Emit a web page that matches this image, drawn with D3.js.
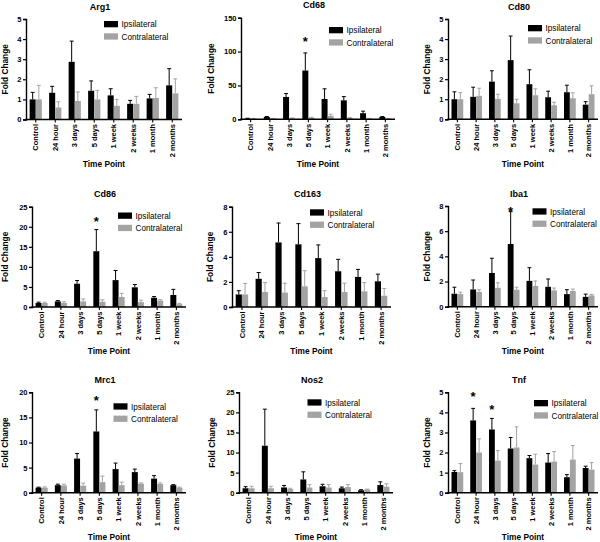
<!DOCTYPE html>
<html>
<head>
<meta charset="utf-8">
<script src="https://cdn.jsdelivr.net/npm/d3@7"></script>
<style>
  html, body { margin: 0; padding: 0; background: #fff; }
  svg { display: block; font-family: "Liberation Sans", Arial, sans-serif; }
</style>
</head>
<body>
<svg id="chart" width="600" height="542"></svg>
<script>
// ---------- DATA ----------
const timePoints = ["Control", "24 hour", "3 days", "5 days", "1 week", "2 weeks", "1 month", "2 months"];
const seriesNames = ["Ipsilateral", "Contralateral"];

const arg1Ipsi = [1.0, 1.33, 2.87, 1.43, 1.2, 0.78, 1.05, 1.7];
const arg1IpsiSem = [0.35, 0.32, 1.03, 0.49, 0.33, 0.17, 0.2, 0.83];
const arg1Contra = [1.0, 0.6, 0.92, 1.0, 0.68, 0.78, 1.07, 1.3];
const arg1ContraSem = [0.7, 0.28, 0.45, 0.45, 0.32, 0.37, 0.51, 0.72];

const cd68Ipsi = [1, 3.5, 33, 72, 30, 28, 9, 3.5];
const cd68IpsiSem = [0.5, 0.7, 5, 26, 15, 5.5, 3, 0.5];
const cd68Contra = [1, 1, 1.5, 2.5, 5, 2, 1, 1];
const cd68ContraSem = [0.3, 0.3, 0.5, 0.5, 2.5, 0.5, 0.3, 0.3];

const cd80Ipsi = [1.0, 1.12, 1.88, 2.95, 1.75, 1.1, 1.35, 0.73];
const cd80IpsiSem = [0.37, 0.48, 0.54, 1.2, 0.72, 0.3, 0.35, 0.15];
const cd80Contra = [1.0, 1.17, 1.02, 0.8, 1.2, 0.7, 1.05, 1.25];
const cd80ContraSem = [0.33, 0.38, 0.23, 0.2, 0.32, 0.15, 0.27, 0.42];

const cd86Ipsi = [1.0, 1.4, 5.8, 13.9, 6.7, 4.9, 2.3, 3.0];
const cd86IpsiSem = [0.2, 0.2, 0.8, 5.4, 2.4, 0.7, 0.3, 1.4];
const cd86Contra = [1.0, 1.0, 1.4, 1.3, 2.5, 1.2, 1.6, 0.7];
const cd86ContraSem = [0.2, 0.3, 0.6, 0.5, 0.9, 0.5, 0.2, 0.2];

const cd163Ipsi = [1.0, 2.25, 5.15, 5.0, 3.9, 2.85, 2.4, 2.05];
const cd163IpsiSem = [0.3, 0.5, 1.55, 1.65, 1.05, 0.95, 0.6, 0.57];
const cd163Contra = [1.0, 1.2, 1.15, 1.65, 0.8, 1.2, 1.25, 0.9];
const cd163ContraSem = [0.88, 0.75, 0.75, 1.25, 0.5, 0.7, 0.7, 0.58];

const iba1Ipsi = [1.03, 1.37, 2.68, 4.98, 2.05, 1.58, 1.0, 0.78];
const iba1IpsiSem = [0.52, 0.75, 1.17, 2.57, 1.05, 0.62, 0.35, 0.22];
const iba1Contra = [1.0, 1.18, 1.5, 1.35, 1.65, 1.3, 1.25, 0.9];
const iba1ContraSem = [0.15, 0.17, 0.4, 0.2, 0.4, 0.18, 0.15, 0.08];

const mrc1Ipsi = [1.0, 1.5, 6.8, 12.2, 4.7, 4.1, 2.8, 1.5];
const mrc1IpsiSem = [0.1, 0.2, 1.0, 4.3, 1.2, 0.6, 0.6, 0.1];
const mrc1Contra = [1.0, 1.45, 1.4, 2.1, 1.5, 1.8, 1.75, 1.0];
const mrc1ContraSem = [0.15, 0.25, 0.5, 1.2, 0.6, 0.15, 0.2, 0.1];

const nos2Ipsi = [1.1, 11.7, 1.3, 3.3, 1.6, 1.1, 0.6, 1.9];
const nos2IpsiSem = [0.4, 9.1, 0.5, 1.9, 0.5, 0.3, 0.15, 0.8];
const nos2Contra = [1.1, 1.1, 0.9, 1.3, 1.3, 1.4, 0.8, 1.5];
const nos2ContraSem = [0.5, 0.5, 0.2, 0.7, 0.7, 0.6, 0.1, 0.7];

const tnfIpsi = [1.03, 3.6, 3.15, 2.2, 1.72, 1.5, 0.77, 1.23];
const tnfIpsiSem = [0.07, 0.6, 0.55, 0.55, 0.13, 0.45, 0.13, 0.09];
const tnfContra = [1.02, 2.0, 1.6, 2.25, 1.4, 1.55, 1.65, 1.15];
const tnfContraSem = [0.43, 0.68, 0.5, 1.03, 0.52, 0.5, 0.7, 0.35];

// y-axis maxima and tick steps
const yMaxes = [5, 150, 5, 25, 8, 8, 20, 25, 5];
const yTickSteps = [1, 50, 1, 5, 2, 2, 5, 5, 1];
// significance markers: [time point index, y value]
const cd68Stars = [[3, 119]];
const cd86Stars = [[3, 22]];
const iba1Stars = [[3, 7.75]];
const mrc1Stars = [[3, 18.8]];
const tnfStars = [[1, 4.9], [2, 4.28]];

// ---------- LAYOUT ----------
const genes = [
  { name: "Arg1", ipsi: arg1Ipsi, ipsiSem: arg1IpsiSem, contra: arg1Contra, contraSem: arg1ContraSem, stars: [] },
  { name: "Cd68", ipsi: cd68Ipsi, ipsiSem: cd68IpsiSem, contra: cd68Contra, contraSem: cd68ContraSem, stars: cd68Stars },
  { name: "Cd80", ipsi: cd80Ipsi, ipsiSem: cd80IpsiSem, contra: cd80Contra, contraSem: cd80ContraSem, stars: [] },
  { name: "Cd86", ipsi: cd86Ipsi, ipsiSem: cd86IpsiSem, contra: cd86Contra, contraSem: cd86ContraSem, stars: cd86Stars },
  { name: "Cd163", ipsi: cd163Ipsi, ipsiSem: cd163IpsiSem, contra: cd163Contra, contraSem: cd163ContraSem, stars: [] },
  { name: "Iba1", ipsi: iba1Ipsi, ipsiSem: iba1IpsiSem, contra: iba1Contra, contraSem: iba1ContraSem, stars: iba1Stars },
  { name: "Mrc1", ipsi: mrc1Ipsi, ipsiSem: mrc1IpsiSem, contra: mrc1Contra, contraSem: mrc1ContraSem, stars: mrc1Stars },
  { name: "Nos2", ipsi: nos2Ipsi, ipsiSem: nos2IpsiSem, contra: nos2Contra, contraSem: nos2ContraSem, stars: [] },
  { name: "Tnf", ipsi: tnfIpsi, ipsiSem: tnfIpsiSem, contra: tnfContra, contraSem: tnfContraSem, stars: tnfStars }
];

// plot frames: x0, x1, yTop, y0, legend box x, legend box y, y-title x
const frames = [
  { x0: 26, x1: 182, yTop: 19, y0: 119.5, lx: 104, ly: 21, tx: 5 },
  { x0: 241, x1: 395, yTop: 17.7, y0: 119.3, lx: 329, ly: 27, tx: 211 },
  { x0: 448, x1: 598, yTop: 19, y0: 119.3, lx: 528, ly: 25, tx: 427 },
  { x0: 32, x1: 186, yTop: 206.7, y0: 307, lx: 118, ly: 212.5, tx: 5 },
  { x0: 232, x1: 391, yTop: 206.7, y0: 307, lx: 310, ly: 209.3, tx: 210 },
  { x0: 448, x1: 598, yTop: 206, y0: 306.7, lx: 532.5, ly: 208.3, tx: 427 },
  { x0: 32, x1: 186, yTop: 392.3, y0: 492.7, lx: 113.5, ly: 403.3, tx: 5 },
  { x0: 239, x1: 393, yTop: 392.3, y0: 492.7, lx: 307.5, ly: 399.3, tx: 211.5 },
  { x0: 448, x1: 598, yTop: 392.3, y0: 492.7, lx: 534, ly: 400, tx: 427 }
];

const colors = { Ipsilateral: "#000000", Contralateral: "#a3a3a3" };

const svg = d3.select("#chart");

genes.forEach((g, i) => {
  const f = frames[i];
  const yMax = yMaxes[i];
  const step = yTickSteps[i];
  const gEl = svg.append("g");

  const x = d3.scaleBand().domain(timePoints).range([f.x0, f.x1])
    .paddingInner(0.36).paddingOuter(0.18);
  const xs = d3.scaleBand().domain(seriesNames).range([0, x.bandwidth()]).padding(0.02);
  const y = d3.scaleLinear().domain([0, yMax]).range([f.y0, f.yTop]);

  const rows = timePoints.map((t, k) => ({
    t,
    vals: [
      { s: "Ipsilateral", v: g.ipsi[k], e: g.ipsiSem[k] },
      { s: "Contralateral", v: g.contra[k], e: g.contraSem[k] }
    ]
  }));

  const grp = gEl.selectAll("g.grp").data(rows).join("g")
    .attr("transform", d => `translate(${x(d.t)},0)`);

  // error bars (upper only)
  grp.selectAll("g.err").data(d => d.vals).join("g").each(function (d) {
    const gg = d3.select(this);
    const cx = xs(d.s) + xs.bandwidth() / 2;
    const cap = xs.bandwidth() * 0.33;
    gg.append("line").attr("x1", cx).attr("x2", cx)
      .attr("y1", y(d.v)).attr("y2", y(d.v + d.e))
      .attr("stroke", colors[d.s]).attr("stroke-width", 1);
    gg.append("line").attr("x1", cx - cap).attr("x2", cx + cap)
      .attr("y1", y(d.v + d.e)).attr("y2", y(d.v + d.e))
      .attr("stroke", colors[d.s]).attr("stroke-width", 1);
  });

  grp.selectAll("rect").data(d => d.vals).join("rect")
    .attr("x", d => xs(d.s))
    .attr("width", xs.bandwidth())
    .attr("y", d => y(d.v))
    .attr("height", d => y(0) - y(d.v))
    .attr("fill", d => colors[d.s]);

  // y axis
  const ticks = d3.range(0, yMax + step / 2, step);
  const yAxis = d3.axisLeft(y).tickValues(ticks).tickSize(3).tickPadding(1.5).tickFormat(d3.format("d"));
  const ya = gEl.append("g").attr("transform", `translate(${f.x0},0)`).call(yAxis);
  ya.select(".domain").attr("stroke-width", 1.4);
  ya.selectAll(".tick line").attr("stroke-width", 1.2);
  ya.selectAll(".tick text").attr("font-size", 7.5).attr("font-weight", "bold")
    .attr("font-family", "Liberation Sans, Arial, sans-serif").attr("fill", "#000");

  // x axis
  const xAxis = d3.axisBottom(x).tickSize(3).tickSizeOuter(0).tickFormat("");
  const xa = gEl.append("g").attr("transform", `translate(0,${f.y0})`).call(xAxis);
  xa.select(".domain").attr("stroke-width", 1.4).attr("d", `M${f.x0 - 0.7},0H${f.x1}`);
  xa.selectAll(".tick line").attr("stroke-width", 1.1);

  gEl.selectAll("text.xlab").data(timePoints).join("text")
    .attr("class", "xlab")
    .attr("transform", d => `translate(${x(d) + x.bandwidth() / 2},${f.y0 + 4.5}) rotate(-90)`)
    .attr("text-anchor", "end").attr("dy", "0.35em")
    .attr("font-size", 7.5).attr("font-weight", "bold")
    .text(d => d);

  // titles
  const cxPlot = (f.x0 + f.x1) / 2;
  gEl.append("text").attr("x", cxPlot - 4).attr("y", f.yTop - 9.5)
    .attr("text-anchor", "middle").attr("font-size", 9).attr("font-weight", "bold")
    .text(g.name);
  gEl.append("text").attr("x", cxPlot).attr("y", f.y0 + 47.3)
    .attr("text-anchor", "middle").attr("font-size", 8.3).attr("font-weight", "bold")
    .text("Time Point");
  gEl.append("text")
    .attr("transform", `translate(${f.tx + 3},${(f.yTop + f.y0) / 2}) rotate(-90)`)
    .attr("text-anchor", "middle").attr("font-size", 8.3).attr("font-weight", "bold")
    .text("Fold Change");

  // significance stars
  gEl.selectAll("text.star").data(g.stars).join("text")
    .attr("class", "star")
    .attr("x", d => x(timePoints[d[0]]) + xs("Ipsilateral") + xs.bandwidth() / 2)
    .attr("y", d => y(d[1]) + 7)
    .attr("text-anchor", "middle").attr("font-size", 13).attr("font-weight", "bold")
    .text("*");

  // legend
  seriesNames.forEach((s, k) => {
    const ly = f.ly + k * 12.3;
    gEl.append("rect").attr("x", f.lx).attr("y", ly).attr("width", 14).attr("height", 6.3)
      .attr("fill", colors[s]);
    gEl.append("text").attr("x", f.lx + 17.5).attr("y", ly + 6.2)
      .attr("font-size", 8.2).text(s);
  });
});
</script>
</body>
</html>
